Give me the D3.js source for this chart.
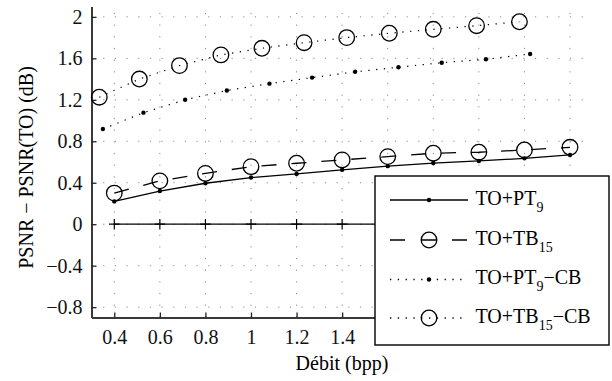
<!DOCTYPE html>
<html>
<head>
<meta charset="utf-8">
<script src="https://cdn.jsdelivr.net/npm/d3@7"></script>
</head>
<body style="margin:0">
<svg width="612" height="381" font-family="Times New Roman, Liberation Serif, Tinos, FreeSerif, serif"></svg>
<script>
// débit (bpp) et gain de PSNR (dB)
const rates = [0.4, 0.6, 0.8, 1.0, 1.2, 1.4, 1.6, 1.8, 2.0, 2.2, 2.4];
const pt9 = [0.22, 0.32, 0.395, 0.45, 0.485, 0.525, 0.56, 0.59, 0.61, 0.635, 0.668];
const tb15 = [0.30, 0.418, 0.49, 0.555, 0.588, 0.62, 0.652, 0.685, 0.694, 0.716, 0.742];
const zeroLine = [0, 0, 0, 0, 0, 0, 0, 0, 0, 0, 0];

const ratesPtCB = [0.35, 0.528, 0.711, 0.894, 1.081, 1.268, 1.457, 1.647, 1.837, 2.031, 2.225];
const pt9CB = [0.918, 1.076, 1.20, 1.29, 1.356, 1.414, 1.47, 1.514, 1.558, 1.591, 1.642];
const ratesTbCB = [0.334, 0.51, 0.686, 0.868, 1.048, 1.233, 1.42, 1.607, 1.80, 1.99, 2.178];
const tb15CB = [1.225, 1.40, 1.53, 1.633, 1.697, 1.751, 1.80, 1.842, 1.88, 1.915, 1.953];

const xTicks = [0.4, 0.6, 0.8, 1, 1.2, 1.4, 1.6, 1.8, 2, 2.2, 2.4];
const xTickLabels = ["0.4", "0.6", "0.8", "1", "1.2", "1.4", "1.6", "1.8", "2", "2.2", "2.4"];
const yTicks = [-0.8, -0.4, 0, 0.4, 0.8, 1.2, 1.6, 2];
const yTickLabels = ["\u22120.8", "\u22120.4", "0", "0.4", "0.8", "1.2", "1.6", "2"];

const serif = "Times New Roman, Liberation Serif, Tinos, FreeSerif, serif";
const svg = d3.select('svg');
const plotLeft = 91.5, plotRight = 592.8, plotTop = 6.5, plotBottom = 317.5;

const xScale = d3.scaleLinear().domain([0.3, 2.5]).range([plotLeft, plotRight]);
const yScale = d3.scaleLinear().domain([-0.9, 2.1]).range([plotBottom, plotTop]);

// grille pointillée
const grid = svg.append('g').attr('stroke', '#8a8a8a').attr('stroke-width', 1)
  .attr('stroke-dasharray', '1.2,10.47');
grid.selectAll('.vgrid').data(xTicks).enter().append('line')
  .attr('x1', d => xScale(d)).attr('x2', d => xScale(d))
  .attr('y1', plotBottom).attr('y2', plotTop);
grid.selectAll('.hgrid').data(yTicks).enter().append('line')
  .attr('x1', plotLeft).attr('x2', plotRight)
  .attr('y1', d => yScale(d)).attr('y2', d => yScale(d));

// axes (ticks vers l'intérieur)
const xAxis = d3.axisBottom(xScale).tickValues(xTicks)
  .tickFormat((d, i) => xTickLabels[i]).tickSizeInner(-5).tickSizeOuter(0).tickPadding(12.5);
const yAxis = d3.axisLeft(yScale).tickValues(yTicks)
  .tickFormat((d, i) => yTickLabels[i]).tickSizeInner(-5).tickSizeOuter(0).tickPadding(9);

svg.append('g').attr('transform', 'translate(0,' + plotBottom + ')').call(xAxis)
  .attr('font-family', serif).attr('font-size', 20);
svg.append('g').attr('transform', 'translate(' + plotLeft + ',0)').call(yAxis)
  .attr('font-family', serif).attr('font-size', 20);

svg.selectAll('.domain').attr('stroke', '#3a3a3a').attr('stroke-width', 2);
svg.selectAll('.tick line').attr('stroke', '#222').attr('stroke-width', 1.3);
svg.selectAll('.tick text').attr('font-family', serif).attr('fill', '#111');

const line = (xs) => d3.line().x((d, i) => xScale(xs[i])).y(d => yScale(d));

// ligne zéro avec marqueurs +
svg.append('path').datum(zeroLine)
  .attr('d', line(rates)).attr('fill', 'none').attr('stroke', '#000').attr('stroke-width', 1.3);
svg.selectAll('.plus').data(zeroLine).enter().append('path')
  .attr('d', (d, i) => {
    const x = xScale(rates[i]), y = yScale(d);
    return 'M' + (x - 5.3) + ',' + y + 'H' + (x + 5.3) + 'M' + x + ',' + (y - 5.3) + 'V' + (y + 5.3);
  })
  .attr('stroke', '#000').attr('stroke-width', 1.2);

// TO+PT9
svg.append('path').datum(pt9)
  .attr('d', line(rates)).attr('fill', 'none').attr('stroke', '#000').attr('stroke-width', 1.3);
svg.selectAll('.dotPt9').data(pt9).enter().append('circle')
  .attr('cx', (d, i) => xScale(rates[i])).attr('cy', d => yScale(d)).attr('r', 2.2).attr('fill', '#000');

// TO+TB15
svg.append('path').datum(tb15)
  .attr('d', line(rates)).attr('fill', 'none').attr('stroke', '#000').attr('stroke-width', 1.3)
  .attr('stroke-dasharray', '15,15');
svg.selectAll('.circTb15').data(tb15).enter().append('circle')
  .attr('cx', (d, i) => xScale(rates[i])).attr('cy', d => yScale(d)).attr('r', 7.8)
  .attr('fill', 'none').attr('stroke', '#000').attr('stroke-width', 1.3);

// TO+PT9-CB
svg.append('path').datum(pt9CB)
  .attr('d', line(ratesPtCB)).attr('fill', 'none').attr('stroke', '#000').attr('stroke-width', 1.2)
  .attr('stroke-dasharray', '1.3,6.5');
svg.selectAll('.dotPtCB').data(pt9CB).enter().append('circle')
  .attr('cx', (d, i) => xScale(ratesPtCB[i])).attr('cy', d => yScale(d)).attr('r', 2.2).attr('fill', '#000');

// TO+TB15-CB
svg.append('path').datum(tb15CB)
  .attr('d', line(ratesTbCB)).attr('fill', 'none').attr('stroke', '#000').attr('stroke-width', 1.2)
  .attr('stroke-dasharray', '1.3,6.5');
svg.selectAll('.circTbCB').data(tb15CB).enter().append('circle')
  .attr('cx', (d, i) => xScale(ratesTbCB[i])).attr('cy', d => yScale(d)).attr('r', 7.8)
  .attr('fill', 'none').attr('stroke', '#000').attr('stroke-width', 1.3);

// titres d'axes
svg.append('text')
  .attr('x', 342).attr('y', 370)
  .attr('text-anchor', 'middle').attr('font-size', 20).attr('font-family', serif)
  .text('Débit (bpp)');

svg.append('text')
  .attr('transform', 'translate(33,167.5) rotate(-90)')
  .attr('text-anchor', 'middle').attr('font-size', 20).attr('font-family', serif)
  .text('PSNR \u2212 PSNR(TO) (dB)');

// légende
const legend = svg.append('g').attr('id', 'legend');
legend.append('rect')
  .attr('x', 375).attr('y', 176).attr('width', 234).attr('height', 169)
  .attr('fill', '#fff').attr('stroke', '#000').attr('stroke-width', 1.4);

const legendItems = [
  { name: 'TO+PT', sub: '9', tail: '', dash: null, marker: 'dot' },
  { name: 'TO+TB', sub: '15', tail: '', dash: '15,16', marker: 'circle' },
  { name: 'TO+PT', sub: '9', tail: '\u2212CB', dash: '1.3,6.5', marker: 'dot' },
  { name: 'TO+TB', sub: '15', tail: '\u2212CB', dash: '1.3,6.5', marker: 'circle' }
];
const legendY = [200, 240, 279.5, 318];

legendItems.forEach((item, i) => {
  const y = legendY[i];
  legend.append('line')
    .attr('x1', 390).attr('x2', 468).attr('y1', y).attr('y2', y)
    .attr('stroke', '#000').attr('stroke-width', 1.3)
    .attr('stroke-dasharray', item.dash);
  if (item.marker === 'dot') {
    legend.append('circle').attr('cx', 429).attr('cy', y).attr('r', 2.2).attr('fill', '#000');
  } else {
    legend.append('circle').attr('cx', 429).attr('cy', y).attr('r', 7.8)
      .attr('fill', 'none').attr('stroke', '#000').attr('stroke-width', 1.3);
  }
  const t = legend.append('text').attr('x', 475.5).attr('y', y + 4.5)
    .attr('font-size', 20).attr('font-family', serif);
  t.append('tspan').text(item.name);
  t.append('tspan').attr('dy', 7).attr('font-size', 14).text(item.sub);
  if (item.tail) t.append('tspan').attr('dy', -7).text(item.tail);
});
</script>
</body>
</html>
